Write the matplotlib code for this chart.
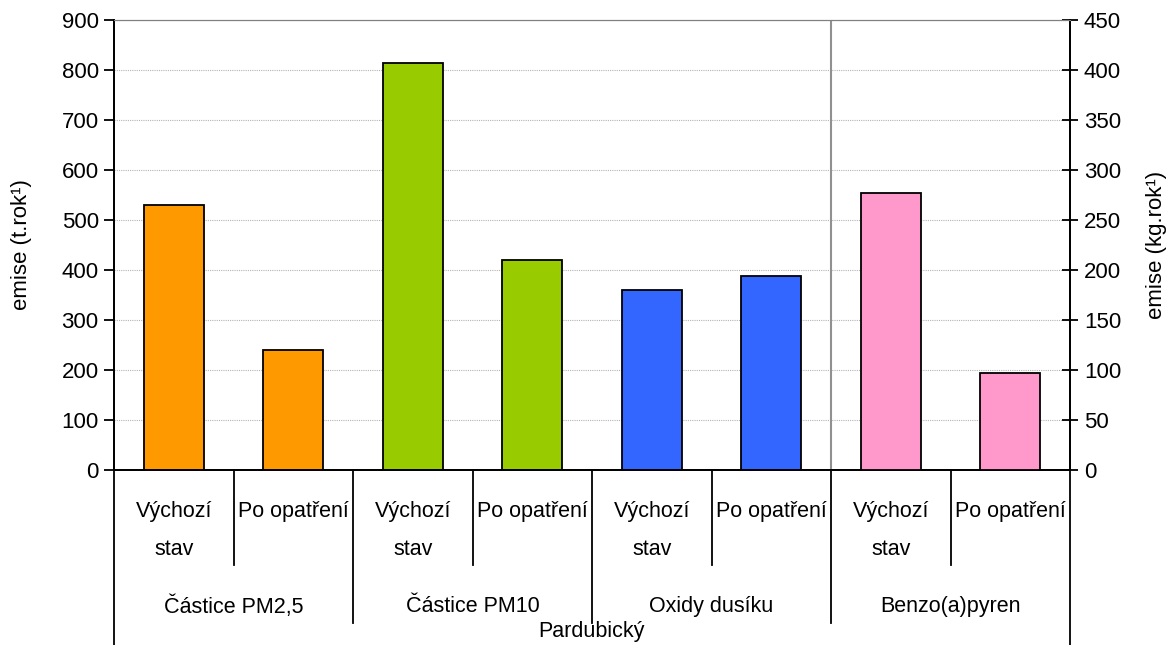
import numpy as np
import matplotlib
matplotlib.use("Agg")
import matplotlib.pyplot as plt
from matplotlib.transforms import blended_transform_factory

plt.rcParams['font.family'] = ['Liberation Sans', 'DejaVu Sans']

# data
region = "Pardubický"
groups = ["Částice PM2,5", "Částice PM10", "Oxidy dusíku", "Benzo(a)pyren"]
scenarios = ["Výchozí\nstav", "Po opatření"]
emise_t = [530, 240, 815, 421, 360, 389]      # t.rok-1, left axis (PM2,5, PM10, NOx)
emise_bap_kg = [277, 97]                      # kg.rok-1, right axis (BaP)
colors = ["#FF9900", "#99CC00", "#3366FF", "#FF99CC"]

fig = plt.figure(figsize=(11.69, 6.45), dpi=100)
ax = fig.add_axes([114/1169, 1 - 470/645, (1070 - 114)/1169, 450/645])
ax2 = ax.twinx()

n = len(groups) * len(scenarios)
x = np.arange(n)
bar_col = [colors[i // 2] for i in range(n)]

ax.bar(x[:6], emise_t, width=0.5, color=bar_col[:6], edgecolor="black", linewidth=1.3, zorder=3)
ax2.bar(x[6:], emise_bap_kg, width=0.5, color=bar_col[6:], edgecolor="black", linewidth=1.3, zorder=3)

ax.set_xlim(-0.5, n - 0.5)
ax.set_ylim(0, 900)
ax2.set_ylim(0, 450)
ax.set_yticks(np.arange(0, 901, 100))
ax2.set_yticks(np.arange(0, 451, 50))
ax.yaxis.grid(True, color="#b4b4b4", linestyle=(0, (1, 1)), linewidth=0.8, zorder=0)
ax.set_axisbelow(True)

fs = 16
for a in (ax, ax2):
    a.spines['top'].set_color("#808080")
    a.spines['left'].set_linewidth(1.3)
    a.spines['right'].set_linewidth(1.3)
    a.spines['bottom'].set_linewidth(1.3)
    a.tick_params(labelsize=fs, width=1.3, length=7)
    a.set_xticks([])
ax.tick_params(axis='y', direction='out', pad=4)
ax2.tick_params(axis='y', direction='inout', length=12, pad=4)

ax.set_ylabel("emise (t.rok¹)", fontsize=fs, va="center")
ax2.set_ylabel("emise (kg.rok¹)", fontsize=fs, va="center")
ax.yaxis.set_label_coords(-0.097, 0.5)
ax2.yaxis.set_label_coords(1.090, 0.5)

# gray divider between the left-axis and right-axis groups
ax.axvline(5.5, color="#909090", linewidth=1.5, zorder=2)

# multi-level category axis
tr = blended_transform_factory(ax.transData, ax.transAxes)
lkw = dict(color="black", linewidth=1.3, transform=tr, clip_on=False)
for i in range(n):
    ax.text(x[i], -0.068, scenarios[i % 2], ha="center", va="top",
            fontsize=15.5, linespacing=2.1, transform=tr)
for b in range(1, n):
    if b % 2:
        ax.plot([b - 0.5, b - 0.5], [0, -0.212], **lkw)
    else:
        ax.plot([b - 0.5, b - 0.5], [0, -0.34], **lkw)
for g, name in enumerate(groups):
    ax.text(2 * g + 0.5, -0.303, name, ha="center", va="center", fontsize=15.5, transform=tr)
for edge in (-0.5, n - 0.5):
    ax.plot([edge, edge], [0, -0.40], **lkw)
ax.text((n - 1) / 2, -0.36, region, ha="center", va="center", fontsize=15.5, transform=tr)

fig.savefig("out.png", dpi=100)
